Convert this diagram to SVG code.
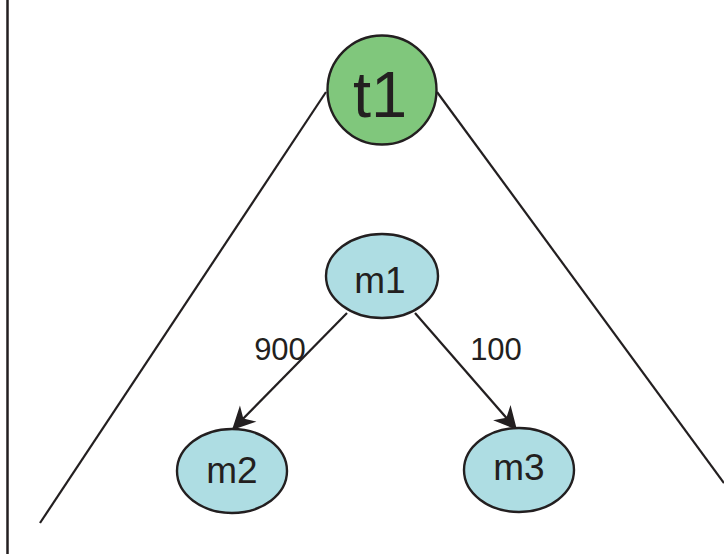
<svg xmlns="http://www.w3.org/2000/svg" width="724" height="554" viewBox="0 0 724 554">
<style>
.ln{stroke:#231f20;stroke-width:2.2;fill:none}
.nd{stroke:#231f20;stroke-width:2.4}
.tx{font-family:"Liberation Sans",Arial,sans-serif;fill:#231f20;text-anchor:middle}
</style>
<defs>
<marker id="ah" markerUnits="userSpaceOnUse" markerWidth="30" markerHeight="30" viewBox="-22 -12 26 24" refX="0" refY="0" orient="auto">
<path d="M0,0 L-20,-10 L-14,0 L-20,10 Z" fill="#231f20"/>
</marker>
</defs>
<rect width="724" height="554" fill="#ffffff"/>
<g id="connectors">
<line class="ln" x1="7.5" y1="0" x2="7.5" y2="554" style="stroke-width:2.5"/>
<line class="ln" x1="326" y1="92" x2="40" y2="523"/>
<line class="ln" x1="437" y1="92" x2="724" y2="483"/>
<line class="ln" x1="347" y1="313" x2="232" y2="430" marker-end="url(#ah)"/>
<line class="ln" x1="415" y1="313" x2="517" y2="430" marker-end="url(#ah)"/>
<text class="tx" x="280" y="360" font-size="31">900</text>
<text class="tx" x="496" y="360" font-size="31">100</text>
</g>
<g id="t1">
<circle class="nd" cx="382" cy="90" r="54.5" fill="#80c77c"/>
<text class="tx" x="380" y="117" font-size="65">t1</text>
</g>
<g id="m1">
<ellipse class="nd" cx="382" cy="276" rx="56" ry="42" fill="#aedde3"/>
<text class="tx" x="380" y="293" font-size="37">m1</text>
</g>
<g id="m2">
<ellipse class="nd" cx="232" cy="471" rx="55" ry="42" fill="#aedde3"/>
<text class="tx" x="232" y="483" font-size="37">m2</text>
</g>
<g id="m3">
<ellipse class="nd" cx="519" cy="470" rx="55" ry="42" fill="#aedde3"/>
<text class="tx" x="519" y="480" font-size="37">m3</text>
</g>
</svg>
